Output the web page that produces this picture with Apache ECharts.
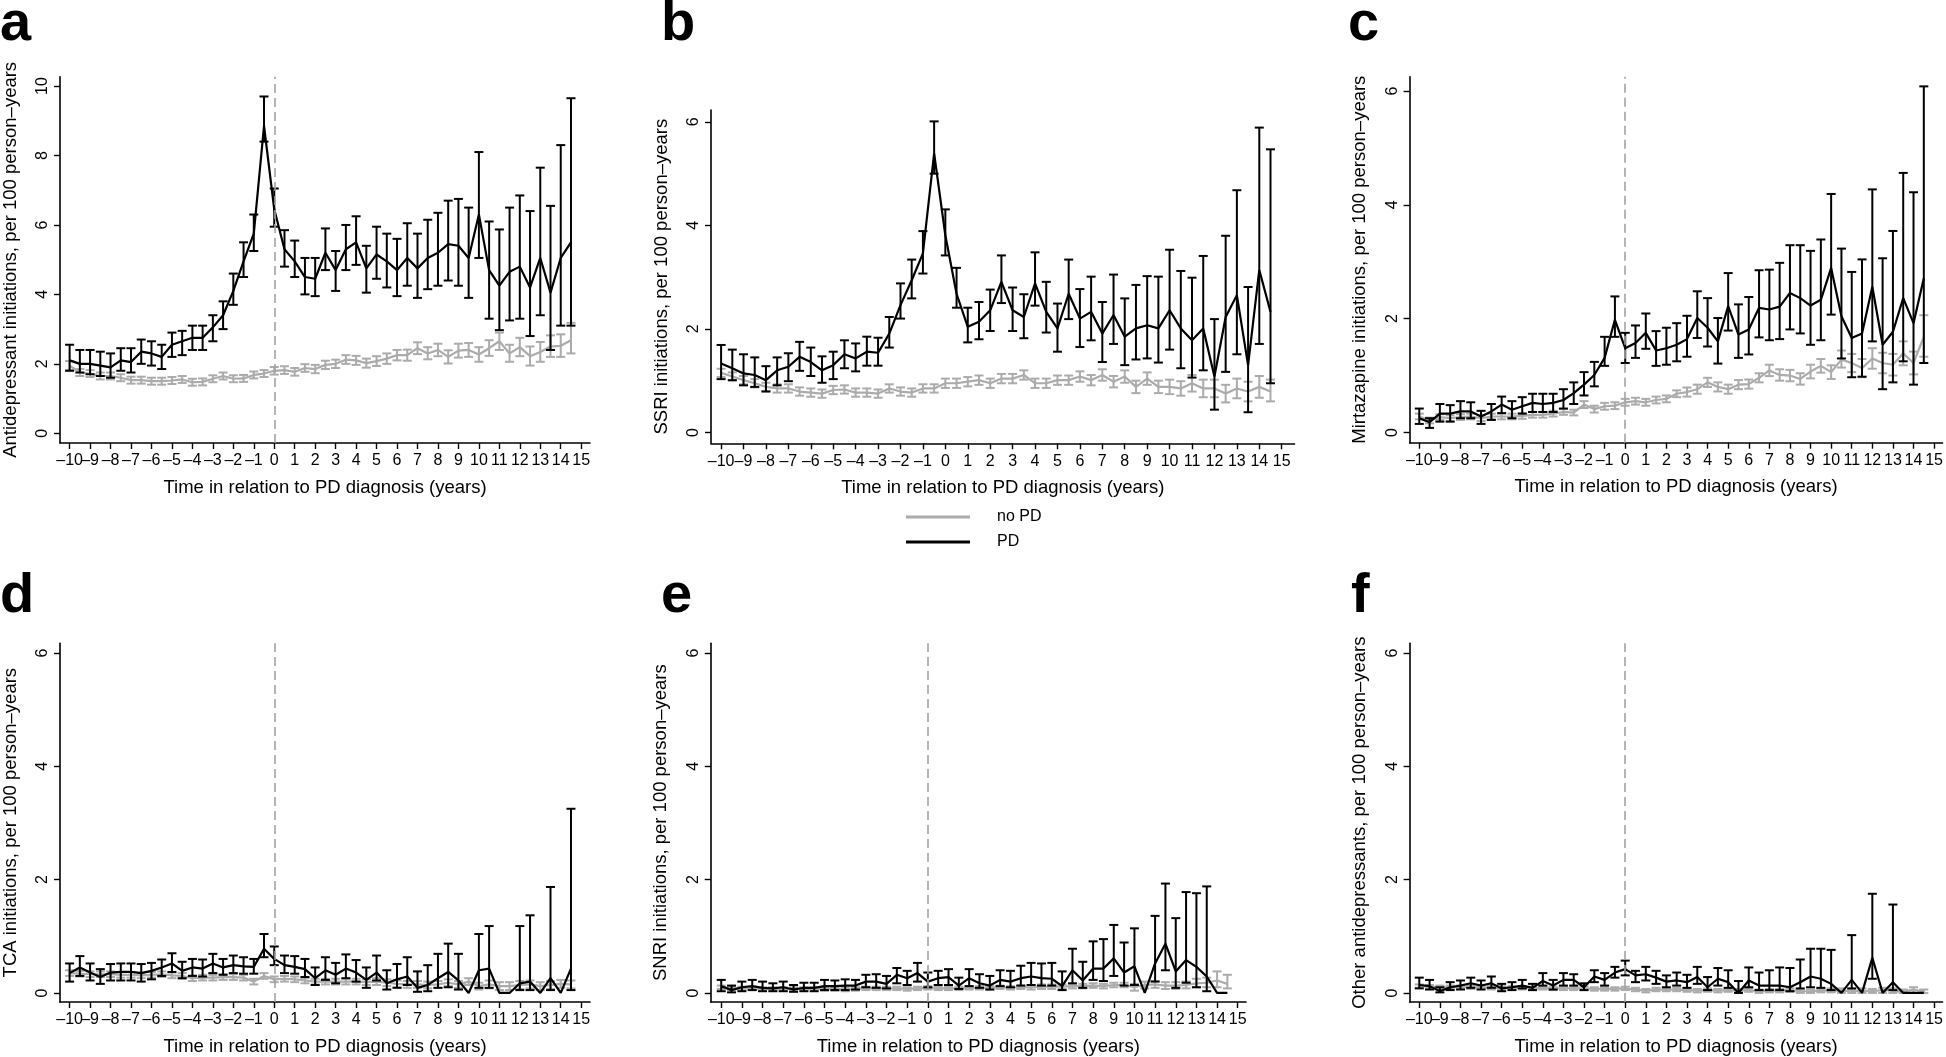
<!DOCTYPE html>
<html><head><meta charset="utf-8">
<script src="https://cdn.jsdelivr.net/npm/echarts@6/dist/echarts.min.js"></script>
<style>html,body{margin:0;padding:0;background:#fff}#c{width:1946px;height:1057px}</style>
</head><body><div id="c"></div>
<script>
// ---------- DATA ----------
const years = [-10,-9.5,-9,-8.5,-8,-7.5,-7,-6.5,-6,-5.5,-5,-4.5,-4,-3.5,-3,-2.5,-2,-1.5,-1,-0.5,0,0.5,1,1.5,2,2.5,3,3.5,4,4.5,5,5.5,6,6.5,7,7.5,8,8.5,9,9.5,10,10.5,11,11.5,12,12.5,13,13.5,14,14.5];
const xTickValues = [-10,-9,-8,-7,-6,-5,-4,-3,-2,-1,0,1,2,3,4,5,6,7,8,9,10,11,12,13,14,15];
const yTicksA = [0,2,4,6,8,10];
const yTicks6 = [0,2,4,6];
const seriesNames = ['no PD','PD'];
const xTitle = 'Time in relation to PD diagnosis (years)';
const yTitles = ['Antidepressant initiations, per 100 person\u2013years','SSRI initiations, per 100 person\u2013years','Mirtazapine initiations, per 100 person\u2013years','TCA initiations, per 100 person\u2013years','SNRI initiations, per 100 person\u2013years','Other antidepressants, per 100 person\u2013years'];
const letters = ['a','b','c','d','e','f'];

// a: Antidepressant
const a_pd_mean = [2.1,2.0,2.0,1.95,1.9, 2.1,2.05,2.35,2.3,2.2, 2.55,2.65,2.75,2.75,3.05, 3.4,4.1,4.95,5.75,8.85, 6.45,5.3,4.95,4.5,4.45, 5.2,4.7,5.3,5.5,4.75, 5.15,4.95,4.7,5.05,4.75, 5.05,5.2,5.45,5.4,5.05, 6.3,4.7,4.25,4.65,4.8, 4.2,5.05,4.05,5.05,5.5];
const a_pd_lo = [1.8,1.75,1.7,1.65,1.6, 1.8,1.75,2.0,1.95,1.85, 2.2,2.25,2.4,2.4,2.65, 3.0,3.7,4.5,5.25,8.4, 5.95,4.8,4.5,4.0,3.95, 4.7,4.1,4.7,4.85,4.05, 4.45,4.2,3.95,4.25,3.9, 4.15,4.25,4.4,4.25,3.9, 5.05,3.3,2.97,3.25,3.3, 2.8,3.4,2.4,3.1,3.1];
const a_pd_hi = [2.55,2.4,2.4,2.35,2.3, 2.45,2.45,2.7,2.65,2.55, 2.9,2.95,3.1,3.1,3.4, 3.8,4.6,5.5,6.3,9.7, 7.05,5.85,5.55,5.05,5.05, 5.9,5.25,6.0,6.25,5.4, 5.95,5.75,5.6,6.05,5.75, 6.15,6.35,6.7,6.75,6.5, 8.1,6.1,5.87,6.5,6.85, 6.4,7.65,6.55,8.3,9.65];
const a_no_mean = [1.95,1.75,1.72,1.65,1.65, 1.6,1.53,1.53,1.5,1.5, 1.52,1.55,1.47,1.48,1.57, 1.65,1.57,1.58,1.68,1.72, 1.8,1.82,1.77,1.88,1.85, 1.97,2.0,2.12,2.1,2.02, 2.08,2.15,2.25,2.25,2.45, 2.3,2.4,2.2,2.38,2.4, 2.27,2.45,2.65,2.3,2.48, 2.22,2.34,2.5,2.52,2.68];
const a_no_lo = [1.82,1.65,1.62,1.55,1.55, 1.5,1.43,1.43,1.4,1.4, 1.42,1.45,1.37,1.38,1.47, 1.55,1.47,1.48,1.58,1.62, 1.69,1.71,1.66,1.77,1.73, 1.85,1.88,2.0,1.97,1.89, 1.94,2.0,2.1,2.09,2.28, 2.13,2.22,2.01,2.18,2.2, 2.06,2.23,2.4,2.06,2.22, 1.95,2.06,2.2,2.2,2.3];
const a_no_hi = [2.08,1.85,1.82,1.75,1.75, 1.7,1.63,1.63,1.6,1.6, 1.62,1.65,1.57,1.58,1.67, 1.75,1.67,1.68,1.78,1.82, 1.91,1.93,1.88,1.99,1.97, 2.09,2.12,2.25,2.23,2.15, 2.22,2.3,2.4,2.41,2.62, 2.48,2.58,2.39,2.58,2.6, 2.48,2.68,2.9,2.55,2.75, 2.5,2.63,2.82,2.85,3.18];

// b: SSRI
const b_pd_mean = [1.33,1.24,1.14,1.11,1.01, 1.2,1.27,1.46,1.36,1.2, 1.3,1.51,1.43,1.56,1.54, 1.91,2.46,2.94,3.46,5.39, 3.81,2.68,2.04,2.14,2.36, 2.91,2.36,2.23,2.88,2.33, 2.01,2.68,2.2,2.33,1.91, 2.27,1.85,2.01,2.07,2.01, 2.36,2.01,1.78,2.01,1.08, 2.23,2.65,1.3,3.14,2.33];
const b_pd_lo = [1.03,1.01,0.91,0.88,0.79, 0.91,0.99,1.19,1.09,0.96, 1.03,1.24,1.18,1.29,1.29, 1.64,2.2,2.59,3.07,5.0, 3.42,2.41,1.74,1.8,1.96, 2.5,1.96,1.82,2.45,1.93, 1.56,2.19,1.65,1.78,1.36, 1.71,1.3,1.41,1.43,1.35, 1.6,1.24,1.06,1.2,0.44, 1.17,1.51,0.39,1.71,0.95];
const b_pd_hi = [1.69,1.6,1.51,1.45,1.28, 1.45,1.53,1.75,1.64,1.47, 1.56,1.78,1.72,1.85,1.83, 2.23,2.88,3.34,3.89,6.01, 4.31,3.18,2.41,2.52,2.76, 3.42,2.8,2.67,3.48,2.91, 2.49,3.34,2.77,3.01,2.52, 3.05,2.59,2.85,3.02,3.01, 3.53,3.12,2.99,3.41,2.19, 3.8,4.68,2.81,5.89,5.47];
const b_no_mean = [1.15,1.08,1.01,0.95,0.88, 0.85,0.85,0.79,0.77,0.75, 0.82,0.83,0.77,0.77,0.75, 0.85,0.79,0.77,0.85,0.85, 0.95,0.95,0.98,1.01,0.95, 1.04,1.04,1.11,0.95,0.95, 1.01,1.01,1.08,1.01,1.11, 0.98,1.08,0.88,1.04,0.88, 0.88,0.85,0.95,0.85,0.85, 0.75,0.85,0.79,0.88,0.79];
const b_no_lo = [1.07,1.0,0.93,0.87,0.8, 0.77,0.77,0.71,0.69,0.67, 0.74,0.75,0.69,0.69,0.67, 0.77,0.71,0.69,0.77,0.77, 0.86,0.86,0.89,0.92,0.86, 0.95,0.95,1.02,0.86,0.86, 0.92,0.92,0.98,0.91,1.0, 0.87,0.96,0.76,0.92,0.76, 0.74,0.71,0.79,0.68,0.68, 0.58,0.66,0.6,0.67,0.6];
const b_no_hi = [1.23,1.16,1.09,1.03,0.96, 0.93,0.93,0.87,0.85,0.83, 0.9,0.91,0.85,0.85,0.83, 0.93,0.87,0.85,0.93,0.93, 1.04,1.04,1.07,1.1,1.04, 1.13,1.13,1.2,1.04,1.04, 1.1,1.1,1.18,1.11,1.22, 1.09,1.2,1.0,1.16,1.0, 1.02,0.99,1.11,1.02,1.02, 0.92,1.04,0.98,1.09,1.02];

// c: Mirtazapine
const c_pd_mean = [0.25,0.18,0.33,0.33,0.37, 0.37,0.28,0.37,0.49,0.4, 0.46,0.52,0.5,0.52,0.57, 0.69,0.84,1.01,1.31,1.98, 1.48,1.57,1.75,1.44,1.48, 1.54,1.64,2.01,1.84,1.6, 2.22,1.72,1.81,2.19,2.16, 2.21,2.45,2.36,2.23,2.33, 2.89,2.04,1.66,1.74,2.56, 1.54,1.77,2.36,1.92,2.71];
const c_pd_lo = [0.15,0.08,0.19,0.19,0.25, 0.25,0.15,0.22,0.34,0.25, 0.33,0.36,0.36,0.36,0.42, 0.5,0.65,0.81,1.17,1.68, 1.22,1.31,1.47,1.17,1.19, 1.25,1.33,1.66,1.51,1.21, 1.79,1.31,1.37,1.67,1.62, 1.64,1.81,1.74,1.54,1.62, 2.07,1.3,0.97,0.98,1.6, 0.76,0.88,1.25,0.84,1.22];
const c_pd_hi = [0.42,0.25,0.5,0.48,0.55, 0.53,0.38,0.5,0.63,0.55, 0.62,0.68,0.68,0.68,0.76, 0.88,1.06,1.24,1.68,2.39, 1.75,1.88,2.09,1.78,1.84, 1.92,2.05,2.48,2.36,2.01, 2.8,2.25,2.38,2.85,2.86, 2.98,3.29,3.29,3.19,3.39, 4.19,3.23,2.82,3.04,4.27, 3.06,3.54,4.56,4.22,6.08];
const c_no_mean = [0.28,0.21,0.27,0.25,0.27, 0.28,0.25,0.28,0.28,0.28, 0.29,0.31,0.31,0.33,0.36, 0.35,0.49,0.41,0.46,0.47, 0.53,0.55,0.53,0.57,0.59, 0.68,0.71,0.76,0.88,0.8, 0.76,0.84,0.85,0.96,1.09, 1.01,1.0,0.94,1.07,1.17, 1.06,1.28,1.22,1.13,1.3, 1.22,1.19,1.39,1.22,1.68];
const c_no_lo = [0.23,0.16,0.22,0.2,0.22, 0.23,0.2,0.23,0.23,0.23, 0.24,0.26,0.26,0.28,0.31, 0.3,0.43,0.35,0.4,0.41, 0.47,0.49,0.47,0.51,0.53, 0.62,0.63,0.68,0.8,0.72, 0.68,0.76,0.77,0.88,0.99, 0.91,0.9,0.84,0.95,1.05, 0.94,1.14,1.06,0.97,1.12, 1.04,1.0,1.18,1.02,1.33];
const c_no_hi = [0.33,0.26,0.32,0.3,0.32, 0.33,0.3,0.33,0.33,0.33, 0.34,0.36,0.36,0.38,0.41, 0.4,0.55,0.47,0.52,0.53, 0.59,0.61,0.59,0.63,0.65, 0.74,0.79,0.84,0.96,0.88, 0.84,0.92,0.93,1.04,1.19, 1.11,1.1,1.04,1.19,1.29, 1.18,1.44,1.38,1.29,1.48, 1.4,1.38,1.6,1.42,2.06];

// d: TCA
const d_pd_mean = [0.35,0.45,0.36,0.28,0.36, 0.37,0.37,0.35,0.39,0.45, 0.52,0.39,0.45,0.43,0.52, 0.45,0.49,0.47,0.46,0.78, 0.6,0.49,0.46,0.42,0.26, 0.4,0.32,0.43,0.36,0.23, 0.36,0.17,0.24,0.29,0.09, 0.14,0.26,0.37,0.22,0, 0.4,0.43,0,0,0.17, 0.2,0,0.26,0,0.43];
const d_pd_lo = [0.2,0.3,0.22,0.16,0.22, 0.22,0.22,0.2,0.24,0.3, 0.37,0.26,0.3,0.29,0.35, 0.32,0.35,0.34,0.34,0.63, 0.49,0.35,0.34,0.28,0.14, 0.23,0.17,0.26,0.2,0.09, 0.22,0.06,0.09,0.14,0.02, 0.03,0.09,0.1,0.06,null, 0.09,0.09,null,null,0.05, 0.05,null,0.05,null,0.05];
const d_pd_hi = [0.52,0.65,0.52,0.42,0.51, 0.52,0.52,0.51,0.53,0.59, 0.7,0.55,0.6,0.59,0.69, 0.6,0.66,0.63,0.6,1.04, 0.82,0.66,0.65,0.6,0.45, 0.63,0.53,0.68,0.58,0.45, 0.66,0.4,0.51,0.63,0.38, 0.49,0.69,0.87,0.69,null, 1.04,1.18,null,null,1.18, 1.37,null,1.87,null,3.25];
const d_no_mean = [0.35,0.34,0.33,0.33,0.33, 0.32,0.32,0.31,0.32,0.33, 0.31,0.3,0.26,0.27,0.27, 0.28,0.28,0.27,0.2,0.3, 0.24,0.25,0.24,0.22,0.2, 0.2,0.2,0.2,0.2,0.19, 0.2,0.18,0.16,0.15,0.15, 0.14,0.15,0.18,0.15,0.2, 0.12,0.15,0.12,0.12,0.14, 0.15,0.12,0.14,0.16,0.15];
const d_no_lo = [0.3,0.29,0.28,0.28,0.28, 0.27,0.27,0.26,0.27,0.28, 0.26,0.25,0.21,0.22,0.22, 0.23,0.23,0.22,0.15,0.25, 0.19,0.2,0.19,0.17,0.15, 0.15,0.15,0.15,0.15,0.14, 0.14,0.12,0.1,0.09,0.09, 0.08,0.09,0.12,0.09,0.14, 0.06,0.08,0.05,0.05,0.07, 0.08,0.05,0.07,0.09,0.08];
const d_no_hi = [0.4,0.39,0.38,0.38,0.38, 0.37,0.37,0.36,0.37,0.38, 0.36,0.35,0.31,0.32,0.32, 0.33,0.33,0.32,0.25,0.35, 0.29,0.3,0.29,0.27,0.25, 0.25,0.25,0.25,0.25,0.24, 0.26,0.24,0.22,0.21,0.21, 0.2,0.21,0.24,0.21,0.26, 0.18,0.22,0.19,0.19,0.21, 0.22,0.19,0.21,0.23,0.22];

// e: SNRI
const e_pd_mean = [0.12,0.05,0.1,0.12,0.09, 0.08,0.1,0.06,0.09,0.09, 0.12,0.12,0.13,0.13,0.2, 0.2,0.16,0.32,0.26,0.35, 0.2,0.26,0.28,0.13,0.26, 0.17,0.13,0.23,0.2,0.26, 0.29,0.26,0.25,0.12,0.4, 0.22,0.43,0.43,0.61,0.36, 0.47,0,0.52,0.87,0.38, 0.58,0.46,0.29,0,0];
const e_pd_lo = [0.03,0.01,0.03,0.05,0.03, 0.03,0.03,0.02,0.03,0.03, 0.05,0.05,0.05,0.06,0.1, 0.09,0.08,0.17,0.14,0.2, 0.1,0.14,0.14,0.07,0.12, 0.09,0.06,0.12,0.1,0.13, 0.14,0.13,0.13,0.05,0.17, 0.09,0.23,0.21,0.3,0.13, 0.14,null,0.2,0.4,0.09, 0.18,0.1,0.03,null,null];
const e_pd_hi = [0.23,0.13,0.2,0.23,0.2, 0.17,0.2,0.14,0.18,0.18, 0.23,0.22,0.24,0.23,0.32, 0.33,0.3,0.44,0.39,0.53, 0.36,0.39,0.42,0.27,0.42, 0.33,0.3,0.4,0.39,0.48, 0.53,0.52,0.53,0.38,0.78, 0.55,0.91,0.95,1.2,0.89, 1.14,null,1.36,1.93,1.32, 1.78,1.76,1.88,null,null];
const e_no_mean = [0.1,0.08,0.08,0.08,0.07, 0.07,0.07,0.07,0.07,0.07, 0.07,0.07,0.06,0.07,0.08, 0.08,0.08,0.08,0.07,0.08, 0.09,0.08,0.08,0.08,0.09, 0.09,0.09,0.1,0.09,0.1, 0.1,0.11,0.11,0.11,0.12, 0.12,0.13,0.12,0.14,0.14, 0.1,0.14,0.15,0.13,0.13, 0.14,0.17,0.18,0.22,0.16];
const e_no_lo = [0.07,0.05,0.05,0.05,0.04, 0.04,0.04,0.04,0.04,0.04, 0.04,0.04,0.03,0.04,0.05, 0.05,0.05,0.05,0.04,0.05, 0.06,0.05,0.05,0.05,0.06, 0.06,0.06,0.07,0.06,0.07, 0.06,0.07,0.07,0.07,0.08, 0.08,0.09,0.08,0.1,0.1, 0.04,0.08,0.09,0.07,0.07, 0.08,0.1,0.1,0.1,0.08];
const e_no_hi = [0.13,0.11,0.11,0.11,0.1, 0.1,0.1,0.1,0.1,0.1, 0.1,0.1,0.09,0.1,0.11, 0.11,0.11,0.11,0.1,0.11, 0.12,0.11,0.11,0.11,0.12, 0.12,0.12,0.13,0.12,0.13, 0.14,0.15,0.15,0.15,0.16, 0.16,0.17,0.16,0.18,0.18, 0.16,0.2,0.21,0.19,0.19, 0.2,0.25,0.27,0.38,0.32];

// f: Other antidepressants
const f_pd_mean = [0.14,0.12,0.03,0.1,0.13, 0.17,0.13,0.17,0.08,0.1, 0.13,0.09,0.21,0.13,0.23, 0.23,0.1,0.29,0.23,0.36, 0.42,0.31,0.33,0.27,0.2, 0.22,0.19,0.28,0.1,0.25, 0.19,0,0.22,0.13,0.13, 0.13,0.1,0.19,0.29,0.25, 0.16,0,0.23,0,0.62, 0,0.19,0,0,0];
const f_pd_lo = [0.08,0.06,0.01,0.05,0.06, 0.09,0.06,0.09,0.03,0.05, 0.08,0.05,0.13,0.06,0.13, 0.13,0.05,0.19,0.13,0.27, 0.31,0.19,0.22,0.16,0.1, 0.13,0.09,0.16,0.05,0.13, 0.09,0,0.1,0.05,0.05, 0.05,0.03,0.08,0.1,0.09, 0.05,null,0.08,null,0.25, null,0.05,null,null,null];
const f_pd_hi = [0.27,0.23,0.1,0.19,0.22, 0.27,0.22,0.29,0.16,0.19, 0.23,0.16,0.35,0.23,0.35, 0.33,0.17,0.4,0.35,0.46, 0.57,0.39,0.46,0.39,0.31, 0.36,0.32,0.46,0.28,0.44, 0.4,0.21,0.45,0.36,0.4, 0.45,0.44,0.59,0.78,0.78, 0.76,null,1.02,null,1.75, null,1.56,null,null,null];
const f_no_mean = [0.12,0.11,0.1,0.1,0.1, 0.1,0.1,0.09,0.09,0.09, 0.09,0.08,0.09,0.08,0.08, 0.08,0.08,0.07,0.07,0.07, 0.08,0.06,0.04,0.06,0.06, 0.06,0.05,0.04,0.05,0.04, 0.05,0.04,0.05,0.03,0.04, 0.04,0.05,0.03,0.03,0.04, 0.04,0.04,0.03,0.04,0.03, 0.05,0.04,0.02,0.06,0.02];
const f_no_lo = [0.09,0.08,0.07,0.07,0.07, 0.07,0.07,0.06,0.06,0.06, 0.06,0.05,0.06,0.05,0.05, 0.05,0.05,0.04,0.04,0.04, 0.05,0.03,0.01,0.03,0.03, 0.03,0.02,0.01,0.02,0.01, 0.02,0.01,0.02,0,0.01, 0.01,0.02,0,0,0.01, 0.01,0,0,0,0, 0,0,0,0,0];
const f_no_hi = [0.15,0.14,0.13,0.13,0.13, 0.13,0.13,0.12,0.12,0.12, 0.12,0.11,0.12,0.11,0.11, 0.11,0.11,0.1,0.1,0.1, 0.11,0.09,0.07,0.09,0.09, 0.09,0.08,0.07,0.08,0.07, 0.08,0.07,0.08,0.06,0.07, 0.07,0.08,0.06,0.06,0.07, 0.08,0.08,0.07,0.08,0.07, 0.09,0.08,0.06,0.1,0.06];

// ---------- LAYOUT (not data) ----------
const FONT = '"Liberation Sans", Arial, Helvetica, sans-serif';
const BLACK = '#000000', GREY = '#ababab';
const panels = [
  {grid:{left:54.5, top:76.7, width:535.5, height:366.3}, x:[-10.47,15.43], y:[-0.28,10.27], yt:yTicksA, dash:true, letter:[0,40],
   pd:[a_pd_mean,a_pd_lo,a_pd_hi], no:[a_no_mean,a_no_lo,a_no_hi]},
  {grid:{left:711, top:110, width:583.5, height:333.3}, x:[-10.45,15.57], y:[-0.21,6.23], yt:yTicks6, dash:false, letter:[661,40],
   pd:[b_pd_mean,b_pd_lo,b_pd_hi], no:[b_no_mean,b_no_lo,b_no_hi]},
  {grid:{left:1409.6, top:76.7, width:533.4, height:366}, x:[-10.47,15.41], y:[-0.18,6.25], yt:yTicks6, dash:true, letter:[1348,40],
   pd:[c_pd_mean,c_pd_lo,c_pd_hi], no:[c_no_mean,c_no_lo,c_no_hi]},
  {grid:{left:54.3, top:643.3, width:535.7, height:366}, x:[-10.47,15.43], y:[-0.16,6.17], yt:yTicks6, dash:true, letter:[0,612],
   pd:[d_pd_mean,d_pd_lo,d_pd_hi], no:[d_no_mean,d_no_lo,d_no_hi]},
  {grid:{left:710.7, top:643.3, width:535.3, height:366}, x:[-10.51,15.40], y:[-0.16,6.17], yt:yTicks6, dash:true, letter:[661,612],
   pd:[e_pd_mean,e_pd_lo,e_pd_hi], no:[e_no_mean,e_no_lo,e_no_hi]},
  {grid:{left:1409.6, top:643.3, width:533.4, height:366}, x:[-10.47,15.41], y:[-0.16,6.17], yt:yTicks6, dash:true, letter:[1351,612],
   pd:[f_pd_mean,f_pd_lo,f_pd_hi], no:[f_no_mean,f_no_lo,f_no_hi]}
];

function errRender(color){
  return function(params, api){
    const x = api.value(0), lo = api.value(1), hi = api.value(2);
    const p1 = api.coord([x, hi]), p2 = api.coord([x, lo]);
    const w = 4.5;
    const style = {stroke: color, lineWidth: 2, fill: null};
    return {type:'group', children:[
      {type:'line', shape:{x1:p1[0],y1:p1[1],x2:p2[0],y2:p2[1]}, style:style},
      {type:'line', shape:{x1:p1[0]-w,y1:p1[1],x2:p1[0]+w,y2:p1[1]}, style:style},
      {type:'line', shape:{x1:p2[0]-w,y1:p2[1],x2:p2[0]+w,y2:p2[1]}, style:style}
    ]};
  };
}
function errData(lo, hi){
  const out = [];
  years.forEach((x,i)=>{ if(lo[i]!=null && hi[i]!=null) out.push([x, lo[i], hi[i]]); });
  return out;
}
function lineData(m){ return years.map((x,i)=>[x, m[i]]); }
function fmtX(v){ return v < 0 ? '\u2013' + Math.abs(v) : String(v); }

const firstTick = [xTickValues[0]];
const restTicks = xTickValues.slice(1);
const labelStyle = {margin:10, fontFamily:FONT, fontSize:16, color:'#000', formatter:fmtX,
  showMinLabel:true, showMaxLabel:true, hideOverlap:false};

const grids=[], xAxes=[], yAxes=[], series=[], graphics=[];
panels.forEach((p, k)=>{
  grids.push(Object.assign({containLabel:false}, p.grid));
  // main x axis (line, all ticks, labels except the first)
  xAxes.push({type:'value', gridIndex:k, position:'bottom', min:p.x[0], max:p.x[1],
    name:xTitle, nameLocation:'middle', nameGap:35,
    nameTextStyle:{fontFamily:FONT, fontSize:18.5, color:'#000'},
    axisLine:{show:true, onZero:false, lineStyle:{color:'#000', width:1.6}},
    axisTick:{show:true, length:6, customValues:xTickValues, lineStyle:{color:'#000', width:1.4}},
    axisLabel:Object.assign({customValues:restTicks}, labelStyle),
    splitLine:{show:false}});
  // companion x axis carrying only the first label (so overlapping labels are all kept, as in the original)
  xAxes.push({type:'value', gridIndex:k, position:'bottom', offset:0, min:p.x[0], max:p.x[1],
    axisLine:{show:false, onZero:false}, axisTick:{show:false},
    axisLabel:Object.assign({customValues:firstTick}, labelStyle),
    splitLine:{show:false}});
  const xi = 2*k;
  yAxes.push({type:'value', gridIndex:k, min:p.y[0], max:p.y[1],
    name:yTitles[k], nameLocation:'middle', nameGap:40, nameRotate:90,
    nameTextStyle:{fontFamily:FONT, fontSize:18.5, color:'#000'},
    axisLine:{show:true, onZero:false, lineStyle:{color:'#000', width:1.6}},
    axisTick:{show:true, length:6, customValues:p.yt, lineStyle:{color:'#000', width:1.4}},
    axisLabel:{customValues:p.yt, rotate:90, margin:9, fontFamily:FONT, fontSize:16, color:'#000',
      showMinLabel:true, showMaxLabel:true},
    splitLine:{show:false}});
  // no PD
  series.push({type:'custom', name:'no PD err', xAxisIndex:xi, yAxisIndex:k, renderItem:errRender(GREY),
    data:errData(p.no[1], p.no[2]), encode:{x:0, y:[1,2]}, silent:true, z:2});
  const noLine = {type:'line', name:seriesNames[0], xAxisIndex:xi, yAxisIndex:k, data:lineData(p.no[0]),
    showSymbol:false, symbol:'none', lineStyle:{color:GREY, width:2.2}, itemStyle:{color:GREY}, z:2};
  if(p.dash){
    noLine.markLine = {silent:true, symbol:['none','none'], label:{show:false},
      lineStyle:{color:'#a3a3a3', type:[9,5], width:1.6}, data:[{xAxis:0}]};
  }
  series.push(noLine);
  // PD
  series.push({type:'custom', name:'PD err', xAxisIndex:xi, yAxisIndex:k, renderItem:errRender(BLACK),
    data:errData(p.pd[1], p.pd[2]), encode:{x:0, y:[1,2]}, silent:true, z:3});
  series.push({type:'line', name:seriesNames[1], xAxisIndex:xi, yAxisIndex:k, data:lineData(p.pd[0]),
    showSymbol:false, symbol:'none', lineStyle:{color:BLACK, width:2.2}, itemStyle:{color:BLACK}, z:3});
  graphics.push({type:'text', left:p.letter[0], top:p.letter[1]-43,
    style:{text:letters[k], font:'bold 56px ' + FONT, fill:'#000'}});
});

const chart = echarts.init(document.getElementById('c'), null, {renderer:'canvas'});
chart.setOption({
  animation:false,
  backgroundColor:'#fff',
  grid:grids, xAxis:xAxes, yAxis:yAxes, series:series,
  graphic:graphics,
  legend:{data:seriesNames, orient:'vertical', left:906, top:509, padding:0,
    itemWidth:64, itemHeight:3, itemGap:9, icon:'rect', selectedMode:false,
    textStyle:{fontFamily:FONT, fontSize:16, color:'#000', padding:[0,0,0,22]}}
});
</script></body></html>
